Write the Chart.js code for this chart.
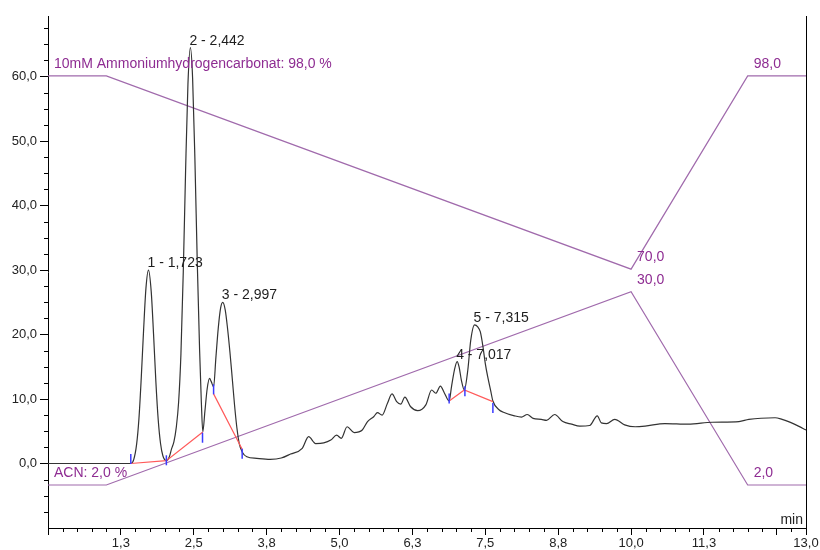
<!DOCTYPE html>
<html>
<head>
<meta charset="utf-8">
<script src="https://cdn.jsdelivr.net/npm/chart.js@4.4.1/dist/chart.umd.min.js"></script>
<style>
  html, body { margin: 0; padding: 0; background: #fff; }
  canvas { display: block; }
</style>
</head>
<body>
<canvas id="chromChart" width="820" height="550"></canvas>
<script>
// Chromatogram trace: retention time (min) and detector signal
const times = [
  0.00, 0.50, 1.00, 1.42, 1.47, 1.52, 1.56, 1.60, 1.64, 1.68,
  1.723, 1.77, 1.81, 1.85, 1.89, 1.93, 1.97, 2.03, 2.08, 2.12,
  2.16, 2.20, 2.24, 2.28, 2.32, 2.36, 2.40, 2.442, 2.48, 2.52,
  2.56, 2.60, 2.63, 2.655, 2.69, 2.73, 2.77, 2.80, 2.84, 2.88,
  2.92, 2.96, 2.997, 3.04, 3.08, 3.12, 3.16, 3.20, 3.24, 3.28,
  3.33, 3.41, 3.58, 3.81, 4.00, 4.16, 4.36, 4.47, 4.59, 4.73,
  4.85, 4.95, 5.03, 5.13, 5.25, 5.39, 5.48, 5.59, 5.65, 5.73,
  5.82, 5.90, 5.98, 6.05, 6.12, 6.22, 6.34, 6.48, 6.58, 6.65,
  6.73, 6.80, 6.88, 6.92, 6.97, 7.017, 7.05, 7.09, 7.14, 7.20,
  7.25, 7.315, 7.37, 7.415, 7.46, 7.50, 7.54, 7.59, 7.63, 7.74,
  7.80, 8.00, 8.12, 8.22, 8.32, 8.46, 8.55, 8.69, 8.83, 8.98,
  9.12, 9.29, 9.42, 9.49, 9.58, 9.72, 9.89, 10.07, 10.24, 10.58,
  10.98, 11.39, 11.85, 12.02, 12.47, 12.59, 12.70, 12.87, 13.00
];
const signal = [
  0.0, 0.0, 0.0, 0.0, 0.6, 3.0, 7.0, 13.4, 20.8, 27.2,
  30.0, 26.7, 20.1, 12.7, 6.8, 3.1, 1.2, 0.45, 1.0, 2.3,
  3.4, 5.6, 9.5, 17.0, 29.7, 45.5, 58.8, 64.5, 59.8, 47.0,
  31.2, 17.6, 9.5, 4.9, 8.0, 11.6, 13.2, 12.7, 11.9, 16.5,
  21.0, 24.1, 25.0, 23.8, 20.9, 17.3, 13.2, 9.0, 5.5, 3.1,
  1.8, 1.05, 0.8, 0.65, 0.85, 1.47, 2.36, 4.16, 3.1, 3.2,
  3.64, 4.4, 3.9, 5.7, 4.8, 5.2, 6.5, 7.3, 7.9, 7.5,
  9.3, 10.8, 9.6, 9.2, 10.3, 8.8, 8.2, 9.1, 11.4, 10.9,
  12.0, 10.9, 9.7, 11.9, 14.5, 15.8, 15.0, 12.9, 11.4, 14.5,
  19.1, 21.5, 21.2, 20.4, 18.1, 15.5, 13.5, 11.4, 9.7, 8.3,
  8.0, 7.4, 7.2, 7.6, 7.0, 6.85, 6.7, 7.6, 6.5, 6.1,
  5.8, 5.9, 7.4, 6.3, 6.2, 6.85, 6.0, 5.7, 5.8, 6.2,
  6.1, 6.4, 6.5, 6.85, 7.1, 6.85, 6.5, 5.8, 5.2
];

// Integrated peaks
const peakNumbers = [1, 2, 3, 4, 5];
const peakTimes = [1.723, 2.442, 2.997, 7.017, 7.315];

// Integration baselines, null splits the peak groups
const baseTimes = [1.42, 2.03, 2.655, 2.75, 2.84, 3.33, 5.0, 6.88, 7.14, 7.63];
const baseLevels = [0.0, 0.45, 4.9, null, 10.8, 2.2, null, 9.7, 11.4, 9.6];

// Peak start / end markers
const markTimes = [1.42, 2.03, 2.65, 2.84, 3.33, 6.88, 7.15, 7.63];
const markLevels = [0.7, 0.5, 4.0, 11.5, 1.5, 10.1, 11.2, 8.6];

// Solvent gradient (%)
const gradTimes = [0, 1.0, 10.0, 12.0, 13.0];
const acnPercent = [2, 2, 30, 2, 2];
const bufferPercent = [98, 98, 70, 98, 98];
const gradLabelAt = [0, 2, 3];
const acnName = 'ACN';
const bufferName = '10mM Ammoniumhydrogencarbonat';

// Axis ticks
const xTickValues = [0, 1.25, 2.5, 3.75, 5, 6.25, 7.5, 8.75, 10, 11.25, 12.5, 13];
const xTickLabels = ['', '1,3', '2,5', '3,8', '5,0', '6,3', '7,5', '8,8', '10,0', '11,3', '', '13,0'];
const yTickValues = [0, 10, 20, 30, 40, 50, 60];
const yTickLabels = ['0,0', '10,0', '20,0', '30,0', '40,0', '50,0', '60,0'];

const FONT = '"Liberation Sans", Arial, sans-serif';
const PURPLE_LINE = '#a06aac';
const PURPLE_TEXT = '#8e2c92';

const xy = (xs, ys) => xs.map((t, i) => ({ x: t, y: ys[i] }));
const comma = (v, d) => v.toFixed(d).replace('.', ',');

const minorX = [];
for (let v = 0.25; v < 13; v += 0.25) {
  if (Math.abs(v / 1.25 - Math.round(v / 1.25)) > 1e-6) minorX.push(v);
}
const minorY = [];
for (let v = -7.5; v < 69; v += 2.5) {
  if (Math.abs(v / 10 - Math.round(v / 10)) > 1e-6) minorY.push(v);
}

const decorations = {
  id: 'decorations',
  afterDatasetsDraw(chart) {
    const { ctx, scales: { x, y, yAcn, yBuf } } = chart;
    ctx.save();

    // peak labels
    ctx.font = '14px ' + FONT;
    ctx.fillStyle = '#1e1e1e';
    ctx.textAlign = 'left';
    ctx.textBaseline = 'alphabetic';
    peakTimes.forEach((t, i) => {
      const h = signal[times.indexOf(t)];
      ctx.fillText(peakNumbers[i] + ' - ' + comma(t, 3),
        x.getPixelForValue(t) - 1, y.getPixelForValue(h) - 3);
    });

    // gradient labels
    ctx.fillStyle = PURPLE_TEXT;
    gradLabelAt.forEach((i, k) => {
      const px = x.getPixelForValue(gradTimes[i]) + 6;
      const b = k === 0 ? bufferName + ': ' + comma(bufferPercent[i], 1) + ' %' : comma(bufferPercent[i], 1);
      const a = k === 0 ? acnName + ': ' + comma(acnPercent[i], 1) + ' %' : comma(acnPercent[i], 1);
      ctx.fillText(b, px, yBuf.getPixelForValue(bufferPercent[i]) - 8);
      ctx.fillText(a, px, yAcn.getPixelForValue(acnPercent[i]) - 8);
    });
    ctx.restore();
  },
  afterDraw(chart) {
    const { ctx, chartArea, scales: { x, y } } = chart;
    ctx.save();
    ctx.strokeStyle = '#000';
    ctx.lineWidth = 1;
    ctx.beginPath();
    minorX.forEach(v => {
      const px = Math.round(x.getPixelForValue(v)) + 0.5;
      ctx.moveTo(px, chartArea.bottom);
      ctx.lineTo(px, chartArea.bottom + 4);
    });
    minorY.forEach(v => {
      const py = Math.round(y.getPixelForValue(v)) + 0.5;
      ctx.moveTo(chartArea.left - 4, py);
      ctx.lineTo(chartArea.left, py);
    });
    const rx = Math.round(chartArea.right) + 0.5;
    ctx.moveTo(rx, chartArea.top);
    ctx.lineTo(rx, chartArea.bottom);
    ctx.stroke();

    ctx.font = '14px ' + FONT;
    ctx.fillStyle = '#222';
    ctx.textAlign = 'right';
    ctx.textBaseline = 'alphabetic';
    ctx.fillText('min', chartArea.right - 3, chartArea.bottom - 4);
    ctx.restore();
  }
};

new Chart(document.getElementById('chromChart'), {
  type: 'line',
  data: {
    datasets: [
      {
        data: xy(markTimes, markLevels),
        showLine: false,
        pointStyle: 'line',
        rotation: 90,
        pointRadius: 5,
        borderColor: '#3b3bff',
        borderWidth: 1.5,
        order: 0
      },
      {
        data: xy(baseTimes, baseLevels),
        borderColor: '#ff5a5a',
        borderWidth: 1.2,
        pointRadius: 0,
        spanGaps: false,
        order: 1
      },
      {
        data: xy(times, signal),
        borderColor: '#333',
        borderWidth: 1.2,
        pointRadius: 0,
        cubicInterpolationMode: 'monotone',
        order: 2
      },
      {
        data: xy(gradTimes, acnPercent),
        yAxisID: 'yAcn',
        borderColor: PURPLE_LINE,
        borderWidth: 1.2,
        pointRadius: 0,
        order: 3
      },
      {
        data: xy(gradTimes, bufferPercent),
        yAxisID: 'yBuf',
        borderColor: PURPLE_LINE,
        borderWidth: 1.2,
        pointRadius: 0,
        order: 3
      }
    ]
  },
  options: {
    responsive: false,
    animation: false,
    layout: { padding: { top: 16, right: 14, left: 0, bottom: 0 } },
    plugins: {
      legend: { display: false },
      tooltip: { enabled: false }
    },
    scales: {
      x: {
        type: 'linear',
        min: 0,
        max: 13,
        afterBuildTicks: scale => { scale.ticks = xTickValues.map(v => ({ value: v })); },
        afterFit: scale => { scale.height = 22; },
        ticks: {
          autoSkip: false,
          maxRotation: 0,
          padding: 1,
          color: '#222',
          font: { family: FONT, size: 13 },
          callback: (v, i) => xTickLabels[i]
        },
        grid: { drawOnChartArea: false, tickLength: 7, tickColor: '#000' },
        border: { color: '#000', width: 1 }
      },
      y: {
        min: -10,
        max: 69.4,
        afterBuildTicks: scale => { scale.ticks = yTickValues.map(v => ({ value: v })); },
        afterFit: scale => { scale.width = 48; },
        ticks: {
          autoSkip: false,
          padding: 3,
          color: '#222',
          font: { family: FONT, size: 13 },
          callback: (v, i) => yTickLabels[i]
        },
        grid: { drawOnChartArea: false, tickLength: 8, tickColor: '#000' },
        border: { color: '#000', width: 1 }
      },
      yAcn: { display: false, min: -4.23, max: 69.97 },
      yBuf: { display: false, min: 32.49, max: 106.69 }
    }
  },
  plugins: [decorations]
});
</script>
</body>
</html>
